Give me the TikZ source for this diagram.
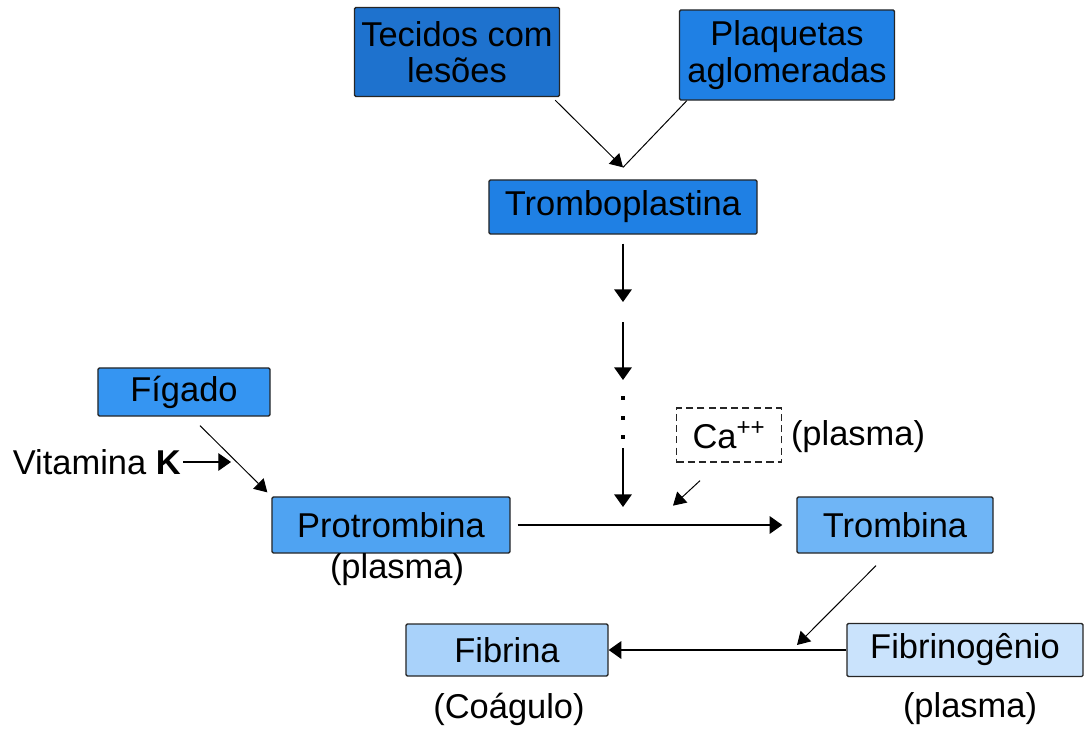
\documentclass[tikz,border=0pt]{standalone}
\usepackage{fontspec}
\setmainfont{Liberation Sans}
\usepackage{tikz}
\usetikzlibrary{arrows.meta,calc}
\definecolor{azulA}{HTML}{1E72CE}
\definecolor{azulB}{HTML}{1F80E4}
\definecolor{azulC}{HTML}{3595F2}
\definecolor{azulD}{HTML}{4FA3F2}
\definecolor{azulE}{HTML}{6FB5F6}
\definecolor{azulF}{HTML}{A9D2FA}
\definecolor{azulG}{HTML}{CAE3FC}
\tikzstyle{caixa} = [draw=black!85, line width=0.9pt, text centered, rounded corners=1pt, inner sep=0pt]
\tikzstyle{texto} = [font=\fontsize{24.5}{26}\selectfont]
\tikzset{
  seta/.style ={draw, line width=1.1pt, -{Triangle[length=9pt,width=12.5pt]}},
  setafina/.style ={draw, line width=0.7pt, -{Triangle[length=9pt,width=10.5pt]}}
}

\begin{document}
\begin{tikzpicture}[x=0.025cm,y=-0.025cm,every node/.style={texto}]
\useasboundingbox (0,0) rectangle (1085,730);
% caixas
\node[caixa,fill=azulA,minimum width=5.125cm,minimum height=2.225cm,align=center] (tecidos) at (457,52) {Tecidos com\\lesões};
\node[caixa,fill=azulB,minimum width=5.375cm,minimum height=2.25cm,align=center] (plaquetas) at (787,55) {Plaquetas\\aglomeradas};
\node[caixa,fill=azulB,minimum width=6.7cm,minimum height=1.35cm] (trombo) at (623,207) {Tromboplastina};
\node[caixa,fill=azulC,minimum width=4.3cm,minimum height=1.2cm] (figado) at (184,392) {Fígado};
\node[caixa,fill=azulD,minimum width=5.95cm,minimum height=1.4cm] (protrombina) at (391,525) {Protrombina};
\node[caixa,fill=azulE,minimum width=4.9cm,minimum height=1.4cm] (trombina) at (895,525) {Trombina};
\node[caixa,fill=azulF,minimum width=5.05cm,minimum height=1.3cm] (fibrina) at (507,650) {Fibrina};
\node[caixa,fill=azulG,minimum width=5.9cm,minimum height=1.325cm] (fibrinogenio) at (965,650) {Fibrinogênio};
\node[caixa,dashed,dash pattern=on 5pt off 3pt,rounded corners=0pt,minimum width=2.625cm,minimum height=1.35cm] (calcio) at (729,435) {Ca\textsuperscript{++}};
% textos soltos
\node (plasmaCa) at (858,437) {(plasma)};
\node (plasmaP) at (397,570) {(plasma)};
\node (coagulo) at (509,709) {(Coágulo)};
\node (plasmaF) at (970,709) {(plasma)};
\node[anchor=east,inner sep=0pt] (vitamina) at (181,462) {Vitamina \textbf{K}};
% pontos de apoio
\coordinate (juncao) at ($(trombo.north)+(0,-12)$);
\coordinate (v1) at (623,302);
\coordinate (v2a) at (623,322);
\coordinate (v2) at (623,380);
\coordinate (v3a) at (623,448);
\coordinate (v3) at (623,507);
\coordinate (vk) at (231,462);
\coordinate (fib) at (797,645);
% setas
\draw[setafina] ($(tecidos.south east)+(-5,3)$) -- (juncao);
\draw[line width=0.7pt] ($(plaquetas.south west)+(8,0)$) -- (juncao);
\draw[seta] ($(trombo.south)+(0,9)$) -- (v1);
\draw[seta] (v2a) -- (v2);
\foreach \y in {398,418,437}
  \fill (621,\y-2) rectangle (625,\y+2);
\draw[seta] (v3a) -- (v3);
\draw[setafina] ($(calcio.south)+(-29,18)$) -- ($(calcio.south)+(-56,43)$);
\draw[seta,line width=0.8pt] ($(vitamina.east)+(2,0)$) -- (vk);
\draw[setafina] ($(figado.south)+(16,9)$) -- ($(protrombina.north west)+(-4,-4)$);
\draw[seta] (protrombina.east) -- (trombina.west) [shorten <=5, shorten >=10];
\draw[setafina] ($(trombina.south)+(-19,12)$) -- (fib);
\draw[seta] (fibrinogenio.west) -- (fibrina.east);
\end{tikzpicture}
\end{document}
